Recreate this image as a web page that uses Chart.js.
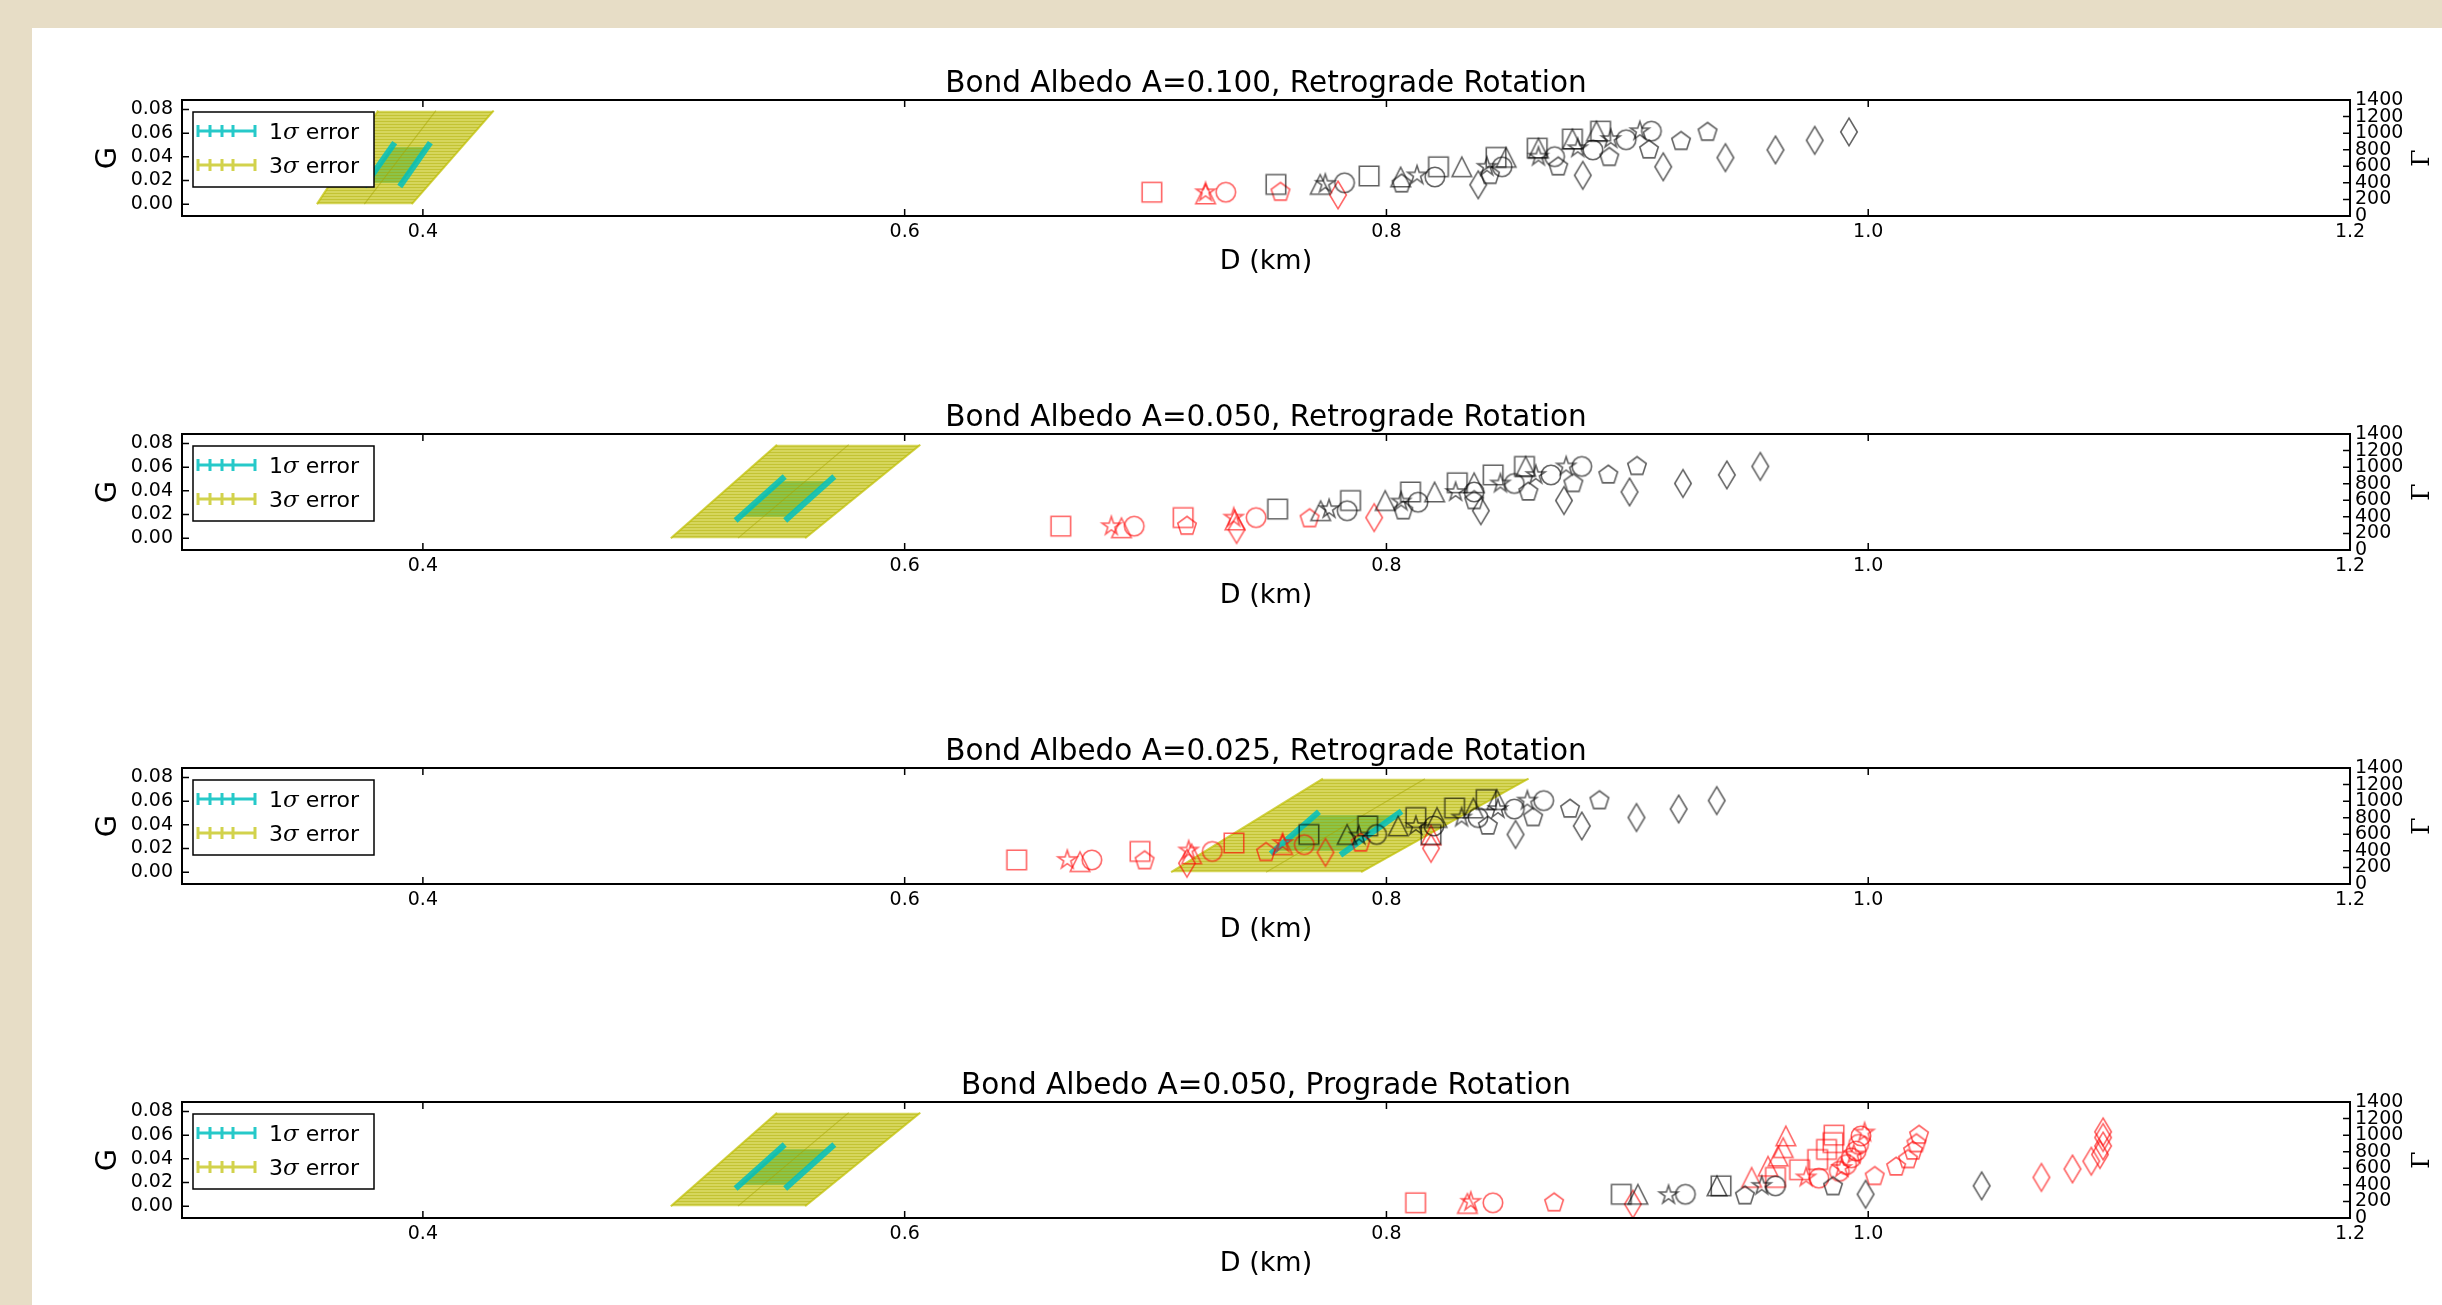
<!DOCTYPE html>
<html>
<head>
<meta charset="utf-8">
<script src="https://cdn.jsdelivr.net/npm/chart.js@4.4.1/dist/chart.umd.min.js"></script>
<style>
  html, body { margin: 0; padding: 0; width: 2442px; height: 1305px; overflow: hidden; background: #e7ddc6; }
  #sheet { position: absolute; left: 32px; top: 28px; width: 2410px; height: 1277px; background: #fff; }
  canvas { position: absolute; left: 0; }
</style>
</head>
<body>
<div id="sheet"></div>
<script>
// axes ticks and text
const xTicks = [0.4, 0.6, 0.8, 1.0, 1.2];
const gTicks = [0, 0.02, 0.04, 0.06, 0.08];
const gammaTicks = [0, 200, 400, 600, 800, 1000, 1200, 1400];
const titles = [
  "Bond Albedo A=0.100, Retrograde Rotation",
  "Bond Albedo A=0.050, Retrograde Rotation",
  "Bond Albedo A=0.025, Retrograde Rotation",
  "Bond Albedo A=0.050, Prograde Rotation",
];
const legendLabels = ["1σ error", "3σ error"];

// error regions, [D, G]. sigma3 / sigma1: bottom-left, bottom-right, top-right, top-left
const p1Sigma3 = [[0.356, 0], [0.3954, 0], [0.4294, 0.079], [0.3814, 0.079]];
const p1Center = [[0.3757, 0], [0.4054, 0.079]];
const p1Sigma1 = [[0.3766, 0.018], [0.3914, 0.018], [0.4017, 0.048], [0.3869, 0.048]];
const p1CapL = [[0.3756, 0.015], [0.3883, 0.052]];
const p1CapR = [[0.3904, 0.015], [0.4031, 0.052]];

const p2Sigma3 = [[0.5029, 0], [0.5587, 0], [0.6065, 0.079], [0.547, 0.079]];
const p2Center = [[0.5308, 0], [0.5768, 0.079]];
const p2Sigma1 = [[0.5315, 0.018], [0.5511, 0.018], [0.5676, 0.048], [0.5480, 0.048]];
const p2CapL = [[0.5298, 0.015], [0.5502, 0.052]];
const p2CapR = [[0.5504, 0.015], [0.5708, 0.052]];

const p3Sigma3 = [[0.7106, 0], [0.7895, 0], [0.859, 0.079], [0.7736, 0.079]];
const p3Center = [[0.750, 0], [0.816, 0.079]];
const p3Sigma1 = [[0.7535, 0.018], [0.7830, 0.018], [0.8040, 0.048], [0.7700, 0.048]];
const p3CapL = [[0.752, 0.0155], [0.772, 0.051]];
const p3CapR = [[0.7809, 0.0145], [0.8063, 0.0515]];

const p4Sigma3 = p2Sigma3, p4Center = p2Center, p4Sigma1 = p2Sigma1, p4CapL = p2CapL, p4CapR = p2CapR;

// model points: [D (km), Gamma, marker]
const p1Red = [
  [0.7026, 287, "s"], [0.7249, 287, "*"], [0.7249, 266, "^"], [0.7333, 287, "o"],
  [0.756, 287, "p"], [0.7799, 254, "d"],
];
const p1Black = [
  [0.7541, 381, "s"], [0.7725, 381, "^"], [0.7746, 389, "*"], [0.7826, 401, "o"],
  [0.7928, 483, "s"], [0.8059, 471, "^"], [0.8063, 389, "p"], [0.8127, 491, "*"],
  [0.8201, 471, "o"], [0.8216, 594, "s"], [0.8313, 594, "^"], [0.8381, 377, "d"],
  [0.8417, 594, "*"], [0.843, 491, "p"], [0.8455, 708, "s"], [0.8497, 708, "^"],
  [0.848, 594, "o"], [0.8626, 819, "s"], [0.8631, 819, "^"], [0.8631, 716, "*"],
  [0.8698, 716, "o"], [0.8713, 594, "p"], [0.8772, 929, "s"], [0.8772, 929, "^"],
  [0.8794, 819, "*"], [0.8857, 798, "o"], [0.8815, 491, "d"], [0.8889, 1024, "s"],
  [0.8872, 1024, "^"], [0.8931, 929, "*"], [0.8995, 921, "o"], [0.8925, 708, "p"],
  [0.9052, 1024, "*"], [0.91, 1024, "o"], [0.909, 798, "p"], [0.9149, 594, "d"],
  [0.9223, 901, "p"], [0.9333, 1011, "p"], [0.9407, 704, "d"], [0.9615, 798, "d"],
  [0.9778, 913, "d"], [0.992, 1015, "d"],
];
const p2Red = [
  [0.6648, 288, "s"], [0.6858, 288, "*"], [0.69, 268, "^"], [0.6953, 288, "o"],
  [0.7156, 391, "s"], [0.7172, 288, "p"], [0.7366, 391, "*"], [0.7371, 362, "^"],
  [0.7378, 247, "d"], [0.7459, 391, "o"], [0.7681, 379, "p"], [0.7949, 391, "d"],
];
const p2Black = [
  [0.7548, 494, "s"], [0.7727, 474, "^"], [0.7762, 494, "*"], [0.7837, 474, "o"],
  [0.7851, 597, "s"], [0.7995, 597, "^"], [0.8061, 585, "*"], [0.807, 474, "p"],
  [0.8131, 577, "o"], [0.81, 700, "s"], [0.82, 700, "^"], [0.8294, 811, "s"],
  [0.8287, 700, "*"], [0.8364, 811, "^"], [0.8364, 700, "o"], [0.8364, 597, "p"],
  [0.8392, 474, "d"], [0.8443, 906, "s"], [0.8473, 803, "*"], [0.8531, 803, "o"],
  [0.8573, 1009, "s"], [0.8578, 1009, "^"], [0.8589, 700, "p"], [0.862, 906, "*"],
  [0.8683, 906, "o"], [0.8776, 803, "p"], [0.8737, 597, "d"], [0.8746, 1009, "*"],
  [0.8811, 1009, "o"], [0.8921, 906, "p"], [0.904, 1009, "p"], [0.9009, 700, "d"],
  [0.9231, 803, "d"], [0.9413, 906, "d"], [0.9552, 1009, "d"],
];
const p3Red = [
  [0.6465, 291, "s"], [0.6675, 291, "*"], [0.6728, 270, "^"], [0.6777, 291, "o"],
  [0.6977, 393, "s"], [0.6996, 282, "p"], [0.7179, 405, "*"], [0.7191, 364, "^"],
  [0.7172, 250, "d"], [0.7277, 393, "o"], [0.7367, 495, "s"], [0.75, 381, "p"],
  [0.7569, 495, "*"], [0.7569, 475, "^"], [0.7659, 475, "o"], [0.7747, 381, "d"],
  [0.7893, 495, "p"], [0.8185, 590, "^"], [0.8185, 430, "d"],
];
const p3Black = [
  [0.7678, 598, "s"], [0.7837, 598, "^"], [0.7886, 585, "*"], [0.7959, 598, "o"],
  [0.7922, 700, "s"], [0.8049, 700, "^"], [0.8122, 802, "s"], [0.8122, 700, "*"],
  [0.821, 802, "^"], [0.8197, 700, "o"], [0.8185, 598, "s"], [0.8283, 917, "s"],
  [0.8312, 802, "*"], [0.8361, 917, "^"], [0.838, 802, "o"], [0.8421, 700, "p"],
  [0.8414, 1019, "s"], [0.8458, 1019, "^"], [0.8463, 905, "*"], [0.8531, 905, "o"],
  [0.8609, 802, "p"], [0.8536, 598, "d"], [0.8585, 1007, "*"], [0.8653, 1007, "o"],
  [0.8762, 905, "p"], [0.8811, 700, "d"], [0.8884, 1007, "p"], [0.9038, 802, "d"],
  [0.9213, 905, "d"], [0.9371, 1007, "d"],
];
const p4Red = [
  [0.8121, 184, "s"], [0.8336, 175, "^"], [0.835, 196, "*"], [0.8442, 184, "o"],
  [0.8696, 184, "p"], [0.9023, 167, "d"],
  [0.9516, 490, "^"], [0.9584, 624, "^"], [0.9626, 747, "^"], [0.9647, 849, "^"], [0.9658, 991, "^"],
  [0.9615, 490, "s"], [0.9715, 583, "s"], [0.979, 706, "s"], [0.9827, 828, "s"], [0.9854, 910, "s"], [0.9858, 1000, "s"],
  [0.9742, 490, "*"], [0.989, 604, "*"], [0.994, 767, "*"], [0.9985, 1032, "*"],
  [0.9795, 481, "o"], [0.988, 563, "o"], [0.991, 645, "o"], [0.993, 726, "o"], [0.995, 808, "o"], [0.996, 889, "o"], [0.997, 991, "o"],
  [1.0027, 502, "p"], [1.0116, 616, "p"], [1.0165, 706, "p"], [1.0186, 808, "p"], [1.02, 898, "p"], [1.0211, 1000, "p"],
  [1.0719, 490, "d"], [1.0848, 592, "d"], [1.0926, 685, "d"], [1.0962, 767, "d"], [1.0975, 869, "d"], [1.0975, 971, "d"], [1.0975, 1040, "d"],
];
const p4Black = [
  [0.8975, 286, "s"], [0.9044, 286, "^"], [0.9171, 277, "*"], [0.9241, 286, "o"],
  [0.9372, 388, "^"], [0.9389, 388, "s"], [0.9488, 269, "p"], [0.9558, 388, "*"],
  [0.9615, 388, "o"], [0.9854, 379, "p"], [0.9989, 286, "d"], [1.0471, 388, "d"],
];

const panels = [
  { title: titles[0], s3: p1Sigma3, c: p1Center, s1: p1Sigma1, capL: p1CapL, capR: p1CapR, red: p1Red, black: p1Black },
  { title: titles[1], s3: p2Sigma3, c: p2Center, s1: p2Sigma1, capL: p2CapL, capR: p2CapR, red: p2Red, black: p2Black },
  { title: titles[2], s3: p3Sigma3, c: p3Center, s1: p3Sigma1, capL: p3CapL, capR: p3CapR, red: p3Red, black: p3Black },
  { title: titles[3], s3: p4Sigma3, c: p4Center, s1: p4Sigma1, capL: p4CapL, capR: p4CapR, red: p4Red, black: p4Black },
];
const canvasTops = [28, 362, 696, 1030];

const SANS = '"DejaVu Sans", sans-serif';
const SERIF = '"DejaVu Serif", serif';
const YEL = "rgba(191,191,0,0.7)";
const CYAN = "rgba(0,191,191,0.85)";

// hollow matplotlib-like marker glyphs
function markerImage(shape, color) {
  const c = document.createElement("canvas");
  c.width = 36; c.height = 36;
  const g = c.getContext("2d");
  const h = 9.75;
  g.translate(18, 18);
  g.strokeStyle = color; g.lineWidth = 1.6;
  g.beginPath();
  if (shape === "s") g.rect(-h, -h, 2 * h, 2 * h);
  else if (shape === "o") g.arc(0, 0, h, 0, Math.PI * 2);
  else if (shape === "^") { g.moveTo(0, -h); g.lineTo(h, h); g.lineTo(-h, h); g.closePath(); }
  else if (shape === "d") {
    const a = h * Math.SQRT2;
    g.moveTo(0, -a); g.lineTo(0.6 * a, 0); g.lineTo(0, a); g.lineTo(-0.6 * a, 0); g.closePath();
  } else {
    const n = shape === "*" ? 10 : 5;
    for (let i = 0; i < n; i++) {
      const r = shape === "*" && i % 2 ? h * 0.381966 : h;
      const t = -Math.PI / 2 + (i * 2 * Math.PI) / n;
      if (i === 0) g.moveTo(r * Math.cos(t), r * Math.sin(t)); else g.lineTo(r * Math.cos(t), r * Math.sin(t));
    }
    g.closePath();
  }
  g.stroke();
  return c;
}
const markers = { red: {}, black: {} };
for (const m of ["s", "o", "^", "d", "*", "p"]) {
  markers.red[m] = markerImage(m, "rgba(255,0,0,0.62)");
  markers.black[m] = markerImage(m, "rgba(0,0,0,0.62)");
}

// horizontal stripes, like the stacked error bars
function stripes(dark, light) {
  const c = document.createElement("canvas");
  c.width = 4; c.height = 3;
  const g = c.getContext("2d");
  g.fillStyle = light; g.fillRect(0, 1, 4, 2);
  g.fillStyle = dark; g.fillRect(0, 0, 4, 1);
  return g.createPattern(c, "repeat");
}
const yellowFill = stripes("rgba(180,180,0,0.8)", "rgba(191,191,0,0.64)");
const cyanFill = stripes("rgba(0,175,175,0.9)", "rgba(0,191,191,0.8)");

const pts = (arr) => arr.map(([x, y]) => ({ x, y }));

const decor = {
  id: "decor",
  afterDraw(chart) {
    const { ctx, chartArea: a, scales } = chart;
    const title = chart.options.plugins.decor.title;
    ctx.save();
    // legend
    const lx = a.left + 11, ly = a.top + 12;
    ctx.fillStyle = "#fff";
    ctx.fillRect(lx, ly, 181, 75);
    ctx.strokeStyle = "#000"; ctx.lineWidth = 1.5;
    ctx.strokeRect(lx, ly, 181, 75);
    legendLabels.forEach((lab, i) => {
      const yy = a.top + 31 + i * 34;
      ctx.strokeStyle = i === 0 ? CYAN : YEL;
      ctx.lineWidth = 3;
      ctx.beginPath();
      ctx.moveTo(lx + 5, yy); ctx.lineTo(lx + 62, yy);
      for (const cx of [5, 17, 29, 40, 62]) { ctx.moveTo(lx + cx, yy - 6); ctx.lineTo(lx + cx, yy + 6); }
      ctx.stroke();
      const [pre, post] = lab.split("σ");
      let tx = a.left + 87;
      const by = a.top + 38.5 + i * 34;
      ctx.fillStyle = "#000"; ctx.textBaseline = "alphabetic"; ctx.textAlign = "left";
      ctx.font = "22px " + SANS; ctx.fillText(pre, tx, by); tx += ctx.measureText(pre).width;
      ctx.font = "italic 23px " + SERIF; ctx.fillText("σ", tx, by); tx += ctx.measureText("σ").width;
      ctx.font = "22px " + SANS; ctx.fillText(post, tx, by);
    });
    // inward ticks
    ctx.strokeStyle = "#000"; ctx.lineWidth = 1.5;
    ctx.beginPath();
    for (const t of scales.x.ticks) {
      const px = scales.x.getPixelForValue(t.value);
      ctx.moveTo(px, a.bottom); ctx.lineTo(px, a.bottom - 7);
      ctx.moveTo(px, a.top); ctx.lineTo(px, a.top + 7);
    }
    for (const t of scales.y.ticks) {
      const py = scales.y.getPixelForValue(t.value);
      ctx.moveTo(a.left, py); ctx.lineTo(a.left + 7, py);
    }
    for (const t of scales.y1.ticks) {
      const py = scales.y1.getPixelForValue(t.value);
      ctx.moveTo(a.right, py); ctx.lineTo(a.right - 7, py);
    }
    ctx.stroke();
    ctx.lineWidth = 2;
    ctx.strokeRect(a.left, a.top, a.right - a.left, a.bottom - a.top);
    // title
    ctx.fillStyle = "#000";
    ctx.font = "29.5px " + SANS; ctx.textAlign = "center"; ctx.textBaseline = "alphabetic";
    ctx.fillText(title, (a.left + a.right) / 2, a.top - 8);
    // right axis label
    ctx.translate(2422, (a.top + a.bottom) / 2);
    ctx.rotate(-Math.PI / 2);
    ctx.font = "25px " + SERIF; ctx.textBaseline = "middle";
    ctx.fillText("Γ", 0, 0);
    ctx.restore();
  },
};

panels.forEach((p, i) => {
  const cv = document.createElement("canvas");
  cv.width = 2442; cv.height = 333;
  cv.style.top = canvasTops[i] + "px";
  document.body.appendChild(cv);

  // lower order is drawn on top; the 3-sigma bars were plotted over the 1-sigma ones
  const datasets = [
    { type: "scatter", yAxisID: "y1", order: 0, data: p.black.map(([x, y, m]) => ({ x, y, m })),
      pointStyle: (c) => (c.raw ? markers.black[c.raw.m] : "circle"), pointRadius: 10 },
    { type: "scatter", yAxisID: "y1", order: 0, data: p.red.map(([x, y, m]) => ({ x, y, m })),
      pointStyle: (c) => (c.raw ? markers.red[c.raw.m] : "circle"), pointRadius: 10 },
    { type: "line", yAxisID: "y", order: 1, data: pts(p.capL), borderColor: CYAN, borderWidth: 6, pointRadius: 0, fill: false },
    { type: "line", yAxisID: "y", order: 1, data: pts(p.capR), borderColor: CYAN, borderWidth: 6, pointRadius: 0, fill: false },
    { type: "line", yAxisID: "y", order: 2, data: pts(p.c), borderColor: "rgba(165,165,0,0.5)", borderWidth: 1.2, pointRadius: 0, fill: false },
    { type: "line", yAxisID: "y", order: 2, data: pts([p.s3[0], p.s3[3]]), borderColor: YEL, borderWidth: 2, pointRadius: 0, fill: false },
    { type: "line", yAxisID: "y", order: 2, data: pts([p.s3[1], p.s3[2]]), borderColor: YEL, borderWidth: 2, pointRadius: 0, fill: false },
    { type: "line", yAxisID: "y", order: 3, data: pts(p.s3), borderWidth: 0, pointRadius: 0, fill: "shape", backgroundColor: yellowFill },
    { type: "line", yAxisID: "y", order: 4, data: pts(p.s1), borderWidth: 0, pointRadius: 0, fill: "shape", backgroundColor: cyanFill },
  ];

  new Chart(cv, {
    type: "scatter",
    data: { datasets },
    plugins: [decor],
    options: {
      responsive: false,
      animation: false,
      events: [],
      layout: { padding: { top: 72, left: 0, right: 0, bottom: 0 } },
      plugins: { legend: { display: false }, tooltip: { enabled: false }, decor: { title: p.title } },
      scales: {
        x: {
          type: "linear", min: 0.3, max: 1.2,
          afterBuildTicks: (s) => { s.ticks = xTicks.map((v) => ({ value: v })); },
          afterFit: (s) => { s.height = 145; },
          grid: { display: false, drawTicks: false }, border: { display: false },
          ticks: { autoSkip: false, maxRotation: 0, padding: 5, color: "#000", font: { family: SANS, size: 19 }, callback: (v) => v.toFixed(1) },
          title: { display: true, text: "D (km)", color: "#000", font: { family: SANS, size: 27 }, padding: { top: 0, bottom: 83 } },
        },
        y: {
          type: "linear", position: "left", min: -0.01, max: 0.088,
          afterBuildTicks: (s) => { s.ticks = gTicks.map((v) => ({ value: v })); },
          afterFit: (s) => { s.width = 182; },
          grid: { display: false, drawTicks: false }, border: { display: false },
          ticks: { autoSkip: false, padding: 9, color: "#000", font: { family: SANS, size: 19 }, callback: (v) => v.toFixed(2) },
          title: { display: true, text: "G", color: "#000", font: { family: SANS, size: 29 }, padding: { top: 91, bottom: 0 } },
        },
        y1: {
          type: "linear", position: "right", min: 0, max: 1400,
          afterBuildTicks: (s) => { s.ticks = gammaTicks.map((v) => ({ value: v })); },
          afterFit: (s) => { s.width = 92; },
          grid: { display: false, drawTicks: false }, border: { display: false },
          ticks: { autoSkip: false, padding: 5, color: "#000", font: { family: SANS, size: 19 }, callback: (v) => String(v) },
        },
      },
    },
  });
});
</script>
</body>
</html>
